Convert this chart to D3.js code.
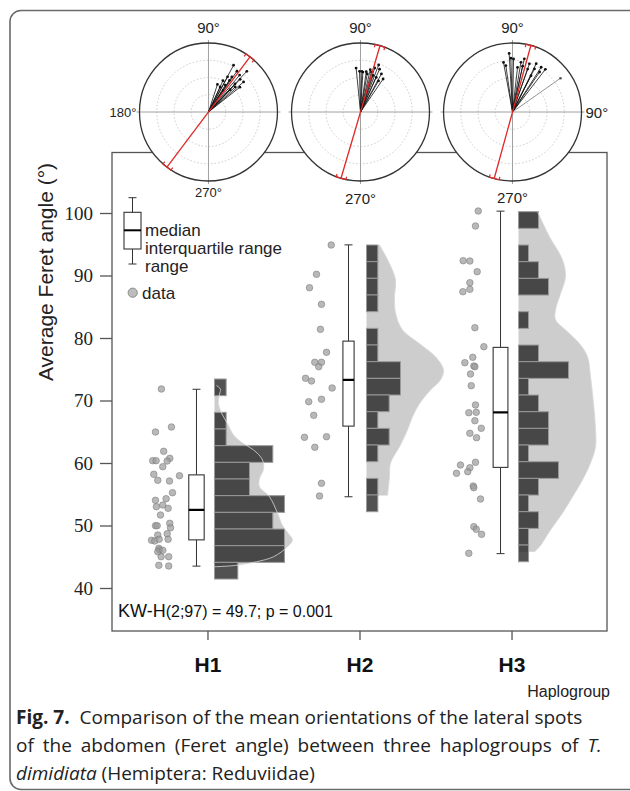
<!DOCTYPE html>
<html><head><meta charset="utf-8">
<script src="https://cdn.jsdelivr.net/npm/d3@7"></script>
<style>body{margin:0;background:#fff} svg{display:block}</style>
</head><body><svg id="c" width="630" height="791"></svg>
<script>
// ---------------- DATA ----------------
const categories = ["H1", "H2", "H3"];
const yTicks = [40, 50, 60, 70, 80, 90, 100];

// jittered raw observations (Feret angle) and horizontal jitter (fraction of category step)
const valuesH1 = [71.84,64.96,65.76,61.87,60.37,60.37,60.75,60.32,59.41,58.19,57.97,57.23,57.12,55.25,54.29,54.03,53.01,53.28,52.75,51.68,50.35,49.97,49.97,49.65,48.69,48.48,47.63,47.52,47.79,47.79,46.35,46.08,45.81,46.03,45.01,45.01,43.63,43.52];
const jitterH1 = [-0.303,-0.342,-0.237,-0.288,-0.360,-0.338,-0.248,-0.265,-0.294,-0.353,-0.184,-0.327,-0.250,-0.230,-0.272,-0.342,-0.336,-0.294,-0.259,-0.309,-0.248,-0.342,-0.331,-0.243,-0.265,-0.327,-0.368,-0.347,-0.318,-0.259,-0.320,-0.316,-0.327,-0.294,-0.305,-0.255,-0.320,-0.255];
const valuesH2 = [94.88,90.19,88.05,85.39,81.39,77.71,76.11,76.11,75.41,73.55,73.12,72.0,69.81,70.19,67.63,64.11,64.21,62.51,56.75,54.72];
const jitterH2 = [-0.186,-0.283,-0.329,-0.250,-0.257,-0.217,-0.294,-0.250,-0.268,-0.355,-0.316,-0.180,-0.334,-0.250,-0.301,-0.362,-0.217,-0.294,-0.250,-0.263];
const valuesH3 = [100.32,97.92,92.37,92.32,90.61,88.85,87.41,87.79,81.65,78.61,76.91,76.05,75.52,75.41,74.24,72.37,69.28,68.05,68.11,66.77,65.55,64.75,64.05,60.11,59.68,59.25,58.61,58.35,56.32,56.05,54.24,49.81,49.39,48.59,45.55];
const jitterH3 = [-0.219,-0.237,-0.318,-0.274,-0.226,-0.274,-0.320,-0.274,-0.241,-0.182,-0.255,-0.307,-0.248,-0.241,-0.270,-0.265,-0.237,-0.281,-0.232,-0.241,-0.199,-0.274,-0.230,-0.237,-0.336,-0.274,-0.288,-0.362,-0.252,-0.248,-0.204,-0.248,-0.232,-0.197,-0.281];

// box statistics [min, q1, median, q3, max]
const boxH1 = [43.5, 47.7, 52.5, 58.1, 71.8];
const boxH2 = [54.6, 65.9, 73.3, 79.5, 94.9];
const boxH3 = [45.5, 59.3, 68.1, 78.5, 100.3];

// histograms: upper edge of first bin, bin width, counts (top to bottom)
const histTop = [73.44, 94.88, 100.21];
const histBinWidth = 2.667;
const histH1 = [1,0,1,1,5,3,3,6,5,6,6,2];
const histH2 = [1,1,1,1,0,1,1,3,3,2,1,2,1,0,1,1];
const histH3 = [2,0,1,2,3,0,1,0,2,5,1,2,3,3,1,4,2,1,2,1,1];

// kernel density (value, relative density)
const densH1 = [[72.4,0.02],[71.8,0.06],[71.0,0.05],[69.5,0.04],[68.0,0.07],[66.3,0.13],[64.5,0.19],[63.2,0.28],[62.1,0.39],[60.5,0.48],[59.0,0.49],[57.5,0.45],[56.2,0.45],[54.6,0.55],[52.0,0.63],[50.0,0.68],[48.7,0.74],[47.7,0.78],[46.6,0.73],[45.0,0.59],[44.2,0.42],[43.6,0.2],[43.4,0.0]];
const densH2 = [[94.9,0.13],[91.9,0.23],[89.3,0.29],[86.6,0.28],[84.0,0.29],[81.3,0.36],[79.1,0.53],[77.0,0.69],[74.9,0.77],[73.3,0.74],[71.7,0.64],[69.5,0.53],[67.4,0.46],[65.3,0.41],[62.6,0.33],[60.0,0.24],[57.8,0.23],[54.8,0.21]];
const densH3 = [[100.2,0.19],[96.2,0.31],[92.5,0.44],[89.8,0.47],[87.1,0.42],[84.5,0.37],[82.9,0.37],[81.3,0.47],[79.1,0.61],[77.0,0.69],[73.8,0.72],[69.5,0.75],[65.3,0.77],[62.6,0.77],[60.0,0.72],[57.3,0.64],[54.6,0.54],[52.0,0.44],[49.3,0.32],[46.6,0.21],[45.8,0.16]];

// polar (circular) plots: vectors [angle deg, relative length], mean axis angle
const polarH1 = [[61.8,0.77],[55.1,0.72],[46.7,0.81],[49.8,0.70],[61.5,0.58],[56.3,0.61],[65.2,0.50],[56.4,0.55],[45.9,0.66],[40.6,0.67],[46.7,0.56],[72.0,0.42],[58.0,0.46],[43.2,0.53],[38.3,0.58],[45.9,0.45],[55.3,0.38],[65.0,0.40]];
const polarH2 = [[95.7,0.64],[91.4,0.59],[88.1,0.59],[81.9,0.59],[77.0,0.63],[74.8,0.60],[72.1,0.67],[68.9,0.73],[66.0,0.68],[61.2,0.63],[65.5,0.55],[59.9,0.52],[55.6,0.58],[86.6,0.58],[80.0,0.56],[71.0,0.56]];
const polarH3 = [[100.3,0.73],[93.3,0.85],[91.8,0.78],[88.9,0.77],[98.2,0.68],[80.4,0.73],[77.5,0.79],[77.6,0.68],[70.7,0.74],[70.6,0.66],[63.9,0.78],[63.0,0.70],[57.4,0.77],[52.4,0.78],[55.9,0.70],[83.6,0.65],[63.0,0.59]];
const polarOutlier = [null, null, [35.2,0.85]];
const meanAxis = [53.0, 73.6, 74.6];

// ---------------- DRAW ----------------
const svg = d3.select("#c");
const FS = "Liberation Sans";
const FSERIF = "Liberation Serif";

// outer rounded frame
svg.append("rect").attr("x",10).attr("y",10.5).attr("width",650).attr("height",779)
  .attr("rx",11).attr("fill","none").attr("stroke","#6a6a6a").attr("stroke-width",1.6);

const plot = {left:112, right:607, top:152.5, bottom:631};
const y = d3.scaleLinear().domain([40,100]).range([588,213]);
const x = d3.scalePoint().domain(categories).range([plot.left, plot.right]).padding(0.628);
const step = x.step();

const groups = categories.map((c,i)=>({
  cat:c,
  values:[valuesH1,valuesH2,valuesH3][i],
  jitter:[jitterH1,jitterH2,jitterH3][i],
  box:[boxH1,boxH2,boxH3][i],
  hist:[histH1,histH2,histH3][i],
  top:histTop[i],
  dens:[densH1,densH2,densH3][i],
  polar:[polarH1,polarH2,polarH3][i],
  outlier:polarOutlier[i],
  mean:meanAxis[i]
}));

// plot frame
svg.append("rect").attr("x",plot.left).attr("y",plot.top)
  .attr("width",plot.right-plot.left).attr("height",plot.bottom-plot.top)
  .attr("fill","none").attr("stroke","#555").attr("stroke-width",1.3);

// y axis
const yAxis = svg.append("g").attr("transform",`translate(${plot.left},0)`)
  .attr("font-family",FSERIF).attr("font-size",19)
  .call(d3.axisLeft(y).tickValues(yTicks).tickSize(12).tickPadding(7).tickFormat(d3.format("d")));
yAxis.attr("font-family",FSERIF).attr("font-size",19);
yAxis.select(".domain").remove();
yAxis.selectAll(".tick line").attr("stroke","#555").attr("stroke-width",1.3);
yAxis.selectAll(".tick text").attr("font-family",FSERIF).attr("font-size",19).attr("fill","#222");

svg.append("text").attr("transform","translate(53,272) rotate(-90)")
  .attr("text-anchor","middle").attr("font-family",FS).attr("font-size",21).attr("fill","#222")
  .text("Average Feret angle (°)");

// x axis
const xAxis = svg.append("g").attr("transform",`translate(0,${plot.bottom})`)
  .call(d3.axisBottom(x).tickSize(9).tickPadding(14));
xAxis.attr("font-family",FS).attr("font-size",21);
xAxis.select(".domain").remove();
xAxis.selectAll(".tick line").attr("stroke","#555").attr("stroke-width",1.3);
xAxis.selectAll(".tick text").attr("font-family",FS).attr("font-size",21)
  .attr("font-weight","bold").attr("fill","#111").attr("dy","0.85em");

svg.append("text").attr("x",610).attr("y",697).attr("text-anchor","end")
  .attr("font-family",FS).attr("font-size",16).attr("fill","#222").text("Haplogroup");

// raincloud elements
const densW = d3.scaleLinear().domain([0,1]).range([0,100]);
groups.forEach((g,gi)=>{
  const cx = x(g.cat);
  const barX = cx + 7;
  const G = svg.append("g");
  const area = d3.area().curve(d3.curveCatmullRom.alpha(0.5))
    .y(d=>y(d[0])).x0(barX).x1(d=>barX+densW(d[1]));
  G.append("path").attr("d",area(g.dens)).attr("fill","#cdcdcd").attr("stroke","none");
  const maxC = d3.max(g.hist);
  const cw = d3.scaleLinear().domain([0,maxC]).range([0,[70,34,50][gi]]);
  g.hist.forEach((c,k)=>{
    if(!c) return;
    const v0 = g.top - k*histBinWidth, v1 = v0 - histBinWidth;
    G.append("rect").attr("x",barX).attr("y",y(v0)).attr("width",cw(c)).attr("height",y(v1)-y(v0))
      .attr("fill","#1e1e1e").attr("fill-opacity",0.77).attr("stroke","#9a9a9a").attr("stroke-width",1);
  });
  const line = d3.line().curve(d3.curveCatmullRom.alpha(0.5)).y(d=>y(d[0])).x(d=>barX+densW(d[1]));
  G.append("path").attr("d",line(g.dens)).attr("fill","none").attr("stroke","#d8d8d8").attr("stroke-width",1).attr("opacity",0.8);

  // box plot
  const bx = cx - 11;
  const bw = 2.5*Math.sqrt(g.values.length);
  const [mn,q1,md,q3,mx] = g.box;
  G.append("line").attr("x1",bx).attr("x2",bx).attr("y1",y(mx)).attr("y2",y(q3)).attr("stroke","#333");
  G.append("line").attr("x1",bx).attr("x2",bx).attr("y1",y(q1)).attr("y2",y(mn)).attr("stroke","#333");
  [mn,mx].forEach(v=>G.append("line").attr("x1",bx-4).attr("x2",bx+4).attr("y1",y(v)).attr("y2",y(v)).attr("stroke","#333"));
  G.append("rect").attr("x",bx-bw/2).attr("y",y(q3)).attr("width",bw).attr("height",y(q1)-y(q3))
    .attr("fill","#fff").attr("stroke","#333").attr("stroke-width",1.1);
  G.append("line").attr("x1",bx-bw/2).attr("x2",bx+bw/2).attr("y1",y(md)).attr("y2",y(md))
    .attr("stroke","#000").attr("stroke-width",2.2);

  // points
  G.selectAll("circle.pt").data(g.values).enter().append("circle").attr("class","pt")
    .attr("cx",(d,k)=>cx + g.jitter[k]*step).attr("cy",d=>y(d)).attr("r",3.3)
    .attr("fill","#9a9a9a").attr("fill-opacity",0.7).attr("stroke","#7a7a7a").attr("stroke-opacity",0.7).attr("stroke-width",0.8);
});

// legend
const L = svg.append("g");
const ly = d3.scaleLinear().domain([0,4]).range([264,197.7]);
L.append("line").attr("x1",132.5).attr("x2",132.5).attr("y1",ly(4)).attr("y2",ly(0)).attr("stroke","#333");
[0,4].forEach(v=>L.append("line").attr("x1",128.5).attr("x2",136.5).attr("y1",ly(v)).attr("y2",ly(v)).attr("stroke","#333"));
L.append("rect").attr("x",124).attr("y",212.3).attr("width",17).attr("height",36.7).attr("fill","#fff").attr("stroke","#333").attr("stroke-width",1.1);
L.append("line").attr("x1",124).attr("x2",141).attr("y1",230.3).attr("y2",230.3).attr("stroke","#000").attr("stroke-width",2);
[["median",236],["interquartile range",254],["range",272]].forEach(([t,yy])=>
  L.append("text").attr("x",145).attr("y",yy).attr("font-family",FS).attr("font-size",17).attr("fill","#222").text(t));
L.append("circle").attr("cx",132.7).attr("cy",292.7).attr("r",4.6).attr("fill","#bdbdbd").attr("stroke","#8a8a8a");
L.append("text").attr("x",142).attr("y",298.5).attr("font-family",FS).attr("font-size",17).attr("fill","#222").text("data");

// KW text
const kw = svg.append("text").attr("x",118).attr("y",617).attr("font-family",FS).attr("fill","#111");
kw.append("tspan").attr("font-size",18).text("KW-H");
kw.append("tspan").attr("font-size",16).text("(2;97) = 49.7; p = 0.001");

// polar plots
const R = 69, pcy = 112;
const rr = d3.scaleLinear().domain([0,1]).range([0,R]);
const rad = a => a*Math.PI/180;
groups.forEach((g,gi)=>{
  const cx = x(g.cat) + 1;
  const P = svg.append("g").attr("transform",`translate(${cx},${pcy})`);
  P.append("circle").attr("r",R).attr("fill","#fff");
  [0.25,0.5,0.75].forEach(f=>P.append("circle").attr("r",rr(f)).attr("fill","none")
    .attr("stroke","#c4c4c4").attr("stroke-width",0.9).attr("stroke-dasharray","1.5,2"));
  P.append("line").attr("x1",-R-3).attr("x2",R+3).attr("y1",0).attr("y2",0).attr("stroke","#a0a0a0").attr("stroke-width",1);
  P.append("line").attr("x1",0).attr("x2",0).attr("y1",-R-3).attr("y2",R+3).attr("stroke","#a0a0a0").attr("stroke-width",1);
  P.append("circle").attr("r",R).attr("fill","none").attr("stroke","#333").attr("stroke-width",1.3);
  g.polar.forEach(([a,l])=>{
    const ex = rr(l)*Math.cos(rad(a)), ey = -rr(l)*Math.sin(rad(a));
    P.append("line").attr("x1",0).attr("y1",0).attr("x2",ex).attr("y2",ey).attr("stroke","#111").attr("stroke-width",0.8);
    P.append("circle").attr("cx",ex).attr("cy",ey).attr("r",1.4).attr("fill","#111");
  });
  if(g.outlier){
    const [a,l]=g.outlier;
    const ex = rr(l)*Math.cos(rad(a)), ey = -rr(l)*Math.sin(rad(a));
    P.append("line").attr("x1",0).attr("y1",0).attr("x2",ex).attr("y2",ey).attr("stroke","#888").attr("stroke-width",0.9);
    P.append("circle").attr("cx",ex).attr("cy",ey).attr("r",1.3).attr("fill","#555");
  }
  const t = rad(g.mean);
  const ux = Math.cos(t), uy = -Math.sin(t);
  P.append("line").attr("x1",-R*ux).attr("y1",-R*uy).attr("x2",R*ux).attr("y2",R*uy)
    .attr("stroke","#e02828").attr("stroke-width",1.3);
  [1,-1].forEach(s=>{
    const px = s*R*ux, py = s*R*uy;
    const tx = -uy, ty = ux;
    const h = 5, d = 3;
    const a1x = px + tx*h, a1y = py + ty*h, a2x = px - tx*h, a2y = py - ty*h;
    P.append("path").attr("d",`M${a1x - s*ux*d},${a1y - s*uy*d}L${a1x},${a1y}L${a2x},${a2y}L${a2x - s*ux*d},${a2y - s*uy*d}`)
      .attr("fill","none").attr("stroke","#e02828").attr("stroke-width",1.2);
  });
  P.append("text").attr("x",0).attr("y",-R-10).attr("text-anchor","middle").attr("font-family",FS)
    .attr("font-size",15).attr("fill","#222").text("90°");
  P.append("text").attr("x",0).attr("y",[R+16,R+23,R+22][gi]).attr("text-anchor","middle").attr("font-family",FS)
    .attr("font-size",[13,15,15][gi]).attr("fill","#222").text("270°");
  if(gi===0) P.append("text").attr("x",-R-3).attr("y",5).attr("text-anchor","end").attr("font-family",FS)
    .attr("font-size",13).attr("fill","#222").text("180°");
  if(gi===2) P.append("text").attr("x",R+4).attr("y",6).attr("text-anchor","start").attr("font-family",FS)
    .attr("font-size",15).attr("fill","#222").text("90°");
});

// caption
const CF = "Open Sans";
const cap = svg.append("g").attr("font-family",CF).attr("font-size",19).attr("fill","#222");
const l1 = cap.append("text").attr("x",16).attr("y",724);
l1.append("tspan").attr("font-weight","bold").text("Fig. 7.");
l1.append("tspan").attr("xml:space","preserve").text("  Comparison of the mean orientations of the lateral spots");
const l2 = cap.append("text").attr("x",16).attr("y",752).attr("word-spacing",4);
l2.append("tspan").text("of the abdomen (Feret angle) between three haplogroups of ");
l2.append("tspan").attr("font-style","italic").text("T.");
const l3 = cap.append("text").attr("x",16).attr("y",780);
l3.append("tspan").attr("font-style","italic").text("dimidiata");
l3.append("tspan").text(" (Hemiptera: Reduviidae)");
</script></body></html>
